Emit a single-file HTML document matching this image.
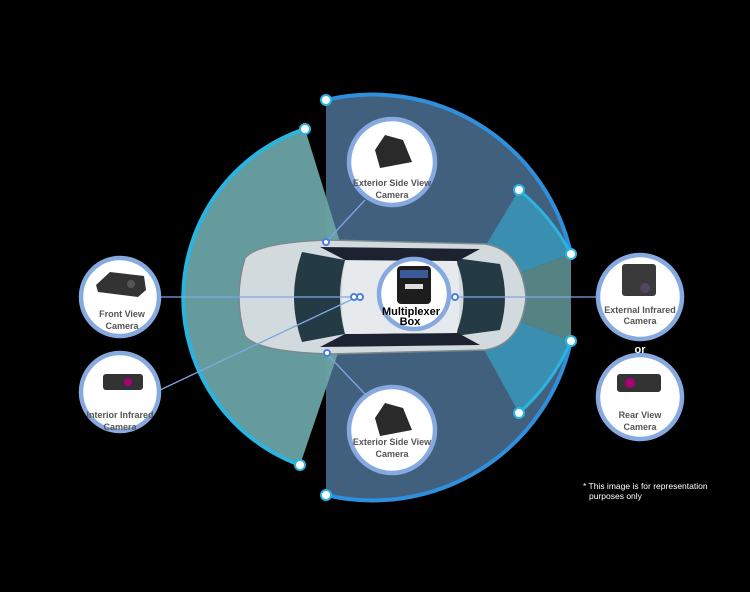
<!DOCTYPE html>
<html><head><meta charset="utf-8"><style>
html,body{margin:0;padding:0;background:#000;}
svg{display:block}
text{font-family:"Liberation Sans",sans-serif;}
</style></head><body>
<svg width="750" height="592" viewBox="0 0 750 592" xmlns="http://www.w3.org/2000/svg">
<rect width="750" height="592" fill="#000"/>
<path d="M326,100 A203,203 0 0 1 571,254 L455,297 L571,341 A203,203 0 0 1 326,495 Z" fill="#41607e"/>
<path d="M357,297 L305,129 A178,178 0 0 0 300,465 Z" fill="#6aa3a4" opacity="0.95"/>
<path d="M455,297 L519,190 A203,203 0 0 1 571,254 Z" fill="#3a8fb0"/>
<path d="M455,297 L519,413 A203,203 0 0 0 571,341 Z" fill="#3a8fb0"/>
<path d="M455,297 L571,254 L571,341 Z" fill="#6aa3a4" opacity="0.8"/>
<path d="M305,129 A178,178 0 0 0 300,465" fill="none" stroke="#2ab4e0" stroke-width="4"/>
<path d="M326,100 A203,203 0 0 1 571,254" fill="none" stroke="#2f8fdc" stroke-width="4"/>
<path d="M571,341 A203,203 0 0 1 326,495" fill="none" stroke="#2f8fdc" stroke-width="4"/>
<path d="M519,190 A203,203 0 0 1 571,254" fill="none" stroke="#2ab4e0" stroke-width="3"/>
<path d="M519,413 A203,203 0 0 0 571,341" fill="none" stroke="#2ab4e0" stroke-width="3"/>
<!-- car -->
<g>
<path d="M245,258 Q233,297 245,336 Q258,352 330,354 L485,350 Q522,344 526,297 Q522,250 485,244 L330,240 Q258,242 245,258 Z" fill="#d3dade" stroke="#7a8a90" stroke-width="1.5"/>
<path d="M302,252 Q286,297 302,342 L345,334 Q335,297 345,260 Z" fill="#243a44"/>
<path d="M455,258 Q472,297 455,336 L500,330 Q510,297 500,264 Z" fill="#243a44"/>
<path d="M320,247 L480,249 L458,261 L345,260 Z" fill="#1c2230"/>
<path d="M320,347 L480,345 L458,333 L345,334 Z" fill="#1c2230"/>
<path d="M345,261 L457,261 Q462,297 457,333 L345,334 Q339,297 345,261 Z" fill="#e6eaec"/>
</g>
<line x1="161" y1="297" x2="357" y2="297" stroke="#7fa6e0" stroke-width="1.3"/>
<line x1="160" y1="390" x2="357" y2="297" stroke="#7fa6e0" stroke-width="1.3"/>
<line x1="455" y1="297" x2="597" y2="297" stroke="#7fa6e0" stroke-width="1.3"/>
<line x1="326" y1="242" x2="365" y2="200" stroke="#7fa6e0" stroke-width="1.3"/>
<line x1="326" y1="353" x2="365" y2="394" stroke="#7fa6e0" stroke-width="1.3"/>
<g fill="#fff" stroke="#4a7fe0" stroke-width="2">
<circle cx="354" cy="297" r="3"/><circle cx="360" cy="297" r="3"/><circle cx="455" cy="297" r="3"/>
<circle cx="326" cy="242" r="3"/><circle cx="327" cy="353" r="3"/>
</g>
<g fill="#fff" stroke="#2ab4e0" stroke-width="2">
<circle cx="326" cy="100" r="5"/><circle cx="326" cy="495" r="5"/>
<circle cx="305" cy="129" r="5"/><circle cx="300" cy="465" r="5"/>
<circle cx="519" cy="190" r="5"/><circle cx="519" cy="413" r="5"/>
<circle cx="571" cy="254" r="5"/><circle cx="571" cy="341" r="5"/>
</g>
<g fill="#fff" stroke="#86a9e0" stroke-width="4.5">
<circle cx="120" cy="297" r="39"/>
<circle cx="120" cy="392" r="39"/>
<circle cx="392" cy="162" r="43"/>
<circle cx="392" cy="430" r="43"/>
<circle cx="640" cy="297" r="42"/>
<circle cx="640" cy="397" r="42"/>
<circle cx="414" cy="294" r="35"/>
</g>
<path d="M96,285 L110,272 L144,276 L146,290 L138,297 L98,292 Z" fill="#333"/>
<circle cx="131" cy="284" r="4" fill="#555"/>
<rect x="103" y="374" width="40" height="16" rx="3" fill="#333"/>
<circle cx="128" cy="382" r="4" fill="#a07"/>
<path d="M375,150 L385,135 L403,140 L412,162 L380,168 Z" fill="#2a2a2a"/>
<path d="M375,418 L385,403 L403,408 L412,430 L380,436 Z" fill="#2a2a2a"/>
<rect x="622" y="264" width="34" height="32" rx="3" fill="#3a3a3a"/>
<circle cx="645" cy="288" r="5" fill="#546"/>
<rect x="617" y="374" width="44" height="18" rx="3" fill="#333"/>
<circle cx="630" cy="383" r="5" fill="#a07"/>
<rect x="397" y="266" width="34" height="38" rx="4" fill="#1d1d1d"/>
<rect x="400" y="270" width="28" height="8" fill="#3a5a9a"/>
<rect x="405" y="284" width="18" height="5" fill="#ddd"/>
<g fill="#555" font-size="9" font-weight="bold" text-anchor="middle">
<text x="122" y="317">Front View</text><text x="122" y="329">Camera</text>
<text x="120" y="418">Interior Infrared</text><text x="120" y="430">Camera</text>
<text x="392" y="186">Exterior Side View</text><text x="392" y="198">Camera</text>
<text x="392" y="445">Exterior Side View</text><text x="392" y="457">Camera</text>
<text x="640" y="313">External Infrared</text><text x="640" y="324">Camera</text>
<text x="640" y="418">Rear View</text><text x="640" y="430">Camera</text>
</g>
<g fill="#000" font-size="11" font-weight="bold" text-anchor="middle">
<text x="411" y="315">Multiplexer</text><text x="410" y="325">Box</text>
</g>
<text x="640" y="353" fill="#fff" font-size="11" font-weight="bold" text-anchor="middle">or</text>
<text x="583" y="489" fill="#fff" font-size="8.5">* This image is for representation</text>
<text x="589" y="499" fill="#fff" font-size="8.5">purposes only</text>
</svg>
</body></html>
